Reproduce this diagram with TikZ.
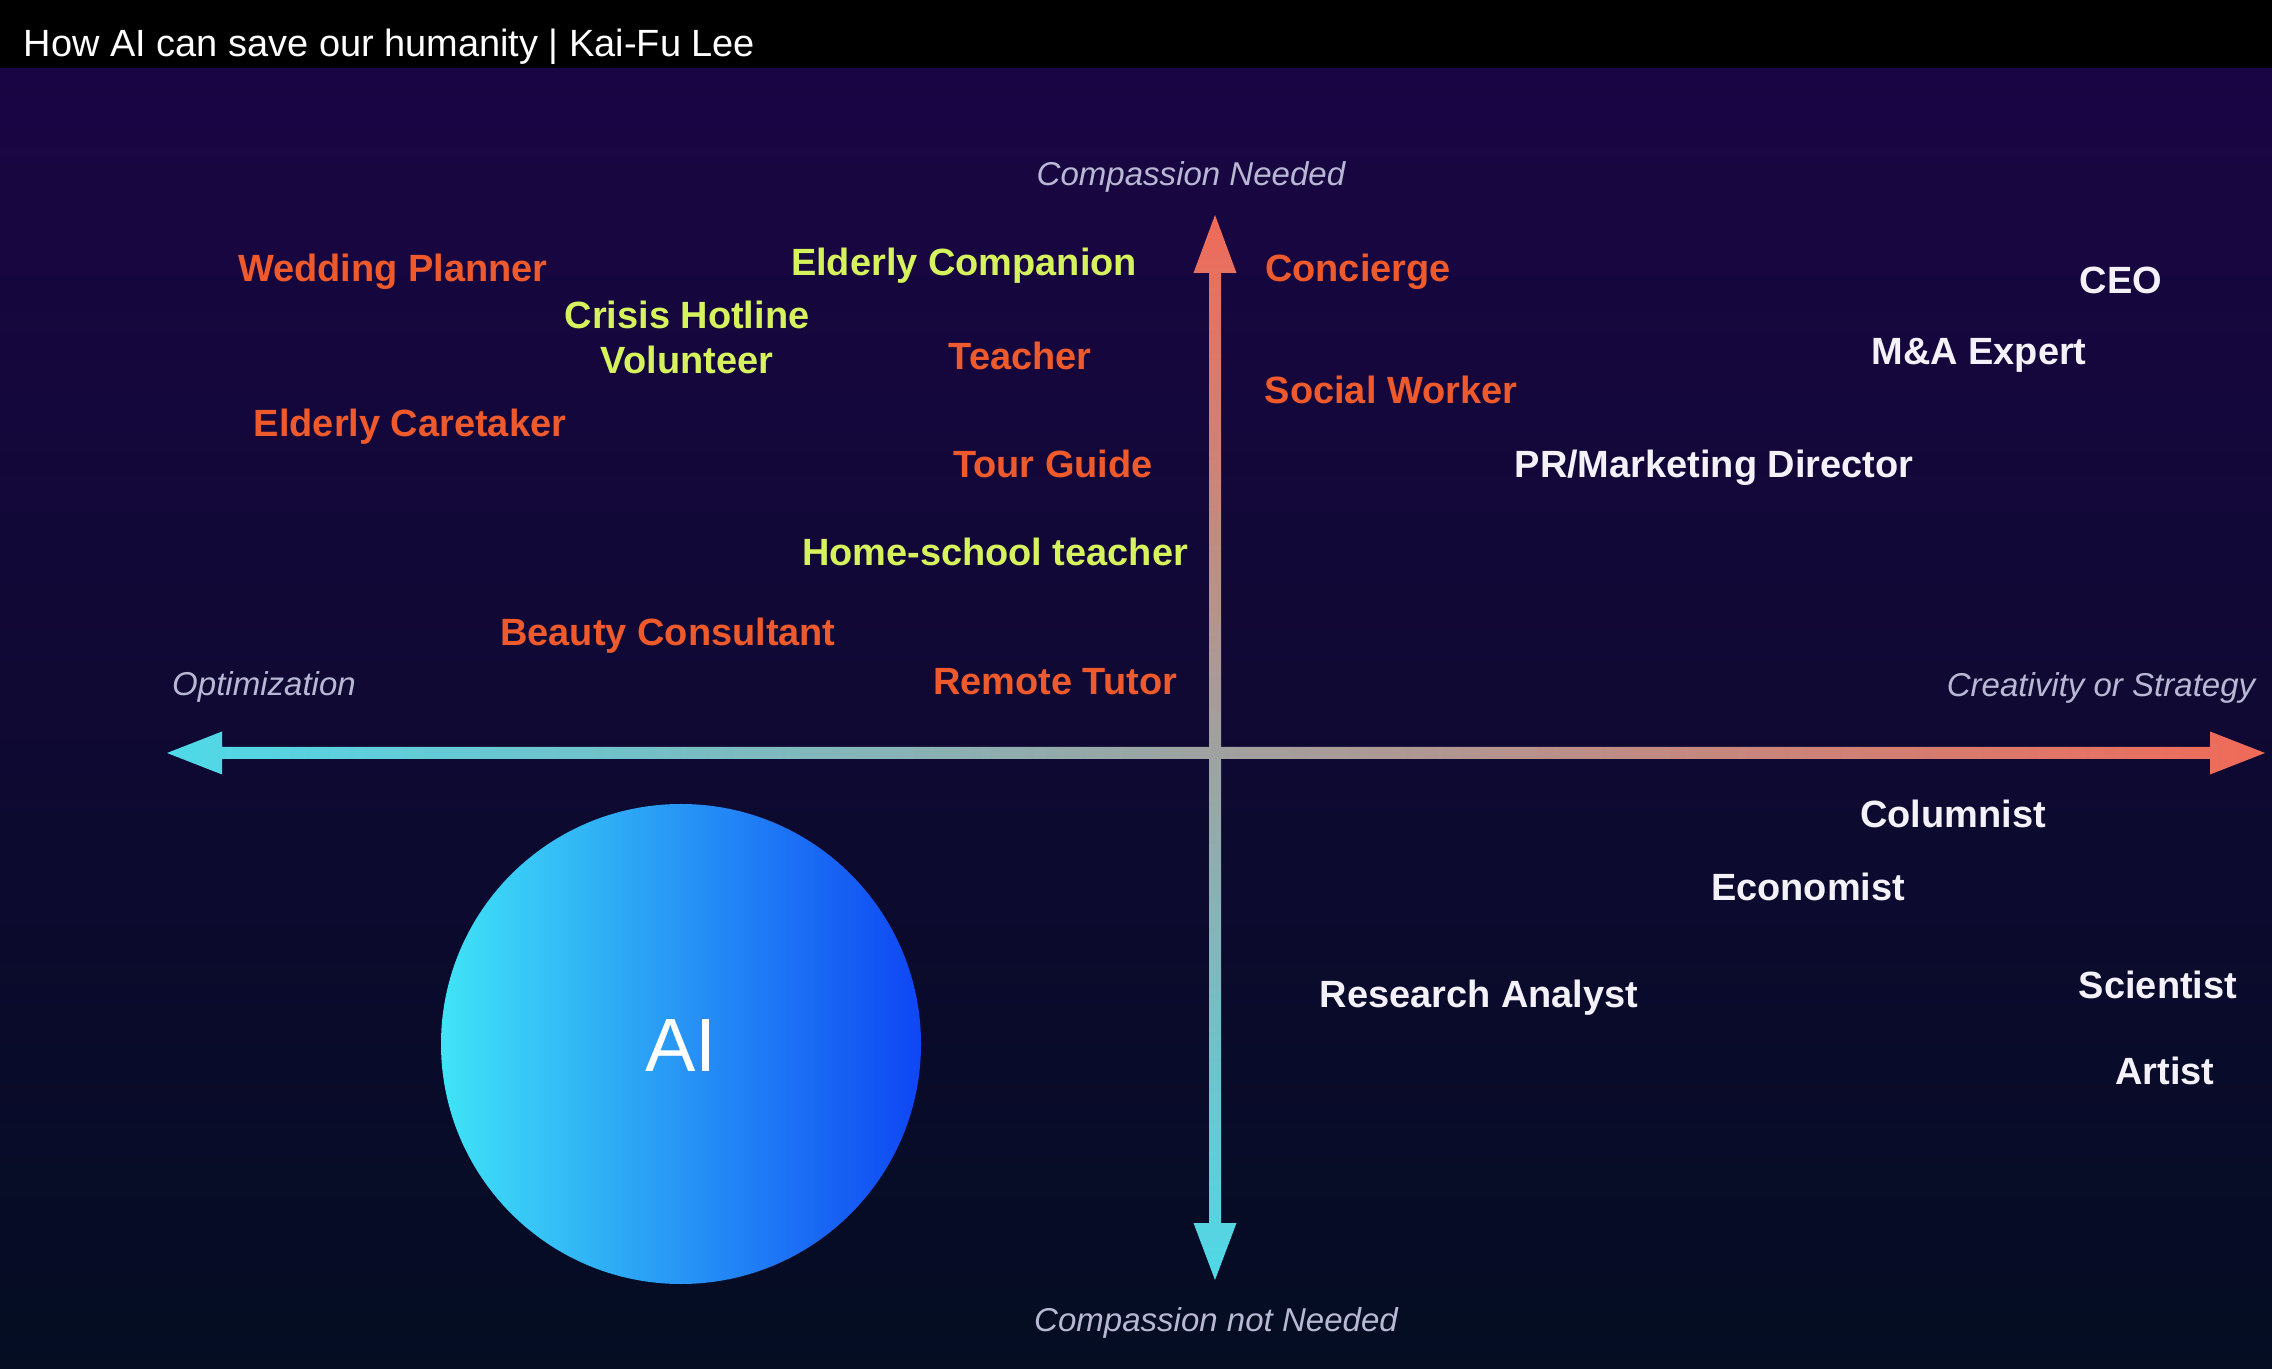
\documentclass[tikz,border=0pt]{standalone}
\usepackage{fontspec}
\setmainfont{Liberation Sans}

\definecolor{bgtop}{HTML}{1A0544}
\definecolor{bgmid}{HTML}{12063A}
\definecolor{bgbot}{HTML}{040D22}
\definecolor{axcyan}{HTML}{4FD9E8}
\definecolor{axred}{HTML}{F06A58}
\definecolor{axgray}{HTML}{BFC0C4}
\definecolor{joborange}{HTML}{EE5A2C}
\definecolor{jobgreen}{HTML}{D6F25C}
\definecolor{jobwhite}{HTML}{F4F2F8}
\definecolor{axtext}{HTML}{B8B8D4}
\definecolor{aicyan}{HTML}{40E4F6}
\definecolor{aimid}{HTML}{2895F2}
\definecolor{aiblue}{HTML}{0E46F4}

\begin{document}
\begin{tikzpicture}[
            job/.style={font=\fontsize{10.8}{13}\selectfont\bfseries, inner sep=0pt, text height=7.7pt, text depth=0pt},
            oj/.style={job, text=joborange},
            gj/.style={job, text=jobgreen},
            wj/.style={job, text=jobwhite},
            axlabel/.style={font=\fontsize{9.4}{11}\selectfont\itshape, text=axtext, inner sep=0pt, text height=6.7pt, text depth=0pt}
        ]
            \useasboundingbox ( 0, 0 ) rectangle ( 22.72, 13.68 );

% фон
            \shade [top color=bgtop, middle color=bgmid, bottom color=bgbot] ( 0, 0 ) rectangle ( 22.72, 13.0 );
            \fill [black] ( 0, 13.0 ) rectangle ( 22.72, 13.68 );
            \node [anchor=base west, inner sep=0pt, text=white, font=\fontsize{10.8}{13}\selectfont] (title) at ( 0.23, 13.11 ) {How AI can save our humanity | Kai-Fu Lee};

% оси
            \shade [left color=axcyan, middle color=axgray, right color=axred]
                ( 1.67, 6.15 ) -- ( 2.22, 6.365 ) -- ( 2.22, 6.21 ) -- ( 22.10, 6.21 ) -- ( 22.10, 6.365 )
                -- ( 22.65, 6.15 ) -- ( 22.10, 5.935 ) -- ( 22.10, 6.09 ) -- ( 2.22, 6.09 ) -- ( 2.22, 5.935 ) -- cycle;
            \shade [top color=axred, middle color=axgray, bottom color=axcyan]
                ( 12.15, 11.53 ) -- ( 12.365, 10.95 ) -- ( 12.21, 10.95 ) -- ( 12.21, 1.45 ) -- ( 12.365, 1.45 )
                -- ( 12.15, 0.88 ) -- ( 11.935, 1.45 ) -- ( 12.09, 1.45 ) -- ( 12.09, 10.95 ) -- ( 11.935, 10.95 ) -- cycle;

            \node [axlabel] (up) at ( 11.91, 11.94 ) {Compassion Needed};
            \node [axlabel] (down) at ( 12.16, 0.48 ) {Compassion not Needed};
            \node [axlabel] (left) at ( 2.64, 6.84 ) {Optimization};
            \node [axlabel] (right) at ( 21.01, 6.83 ) {Creativity or Strategy};

% круг
            \node [circle, inner sep=0pt, minimum size=4.8cm, left color=aicyan, middle color=aimid, right color=aiblue,
                text=white, font=\fontsize{21.5}{24}\selectfont, text height=15.4pt, text depth=0pt] (ai) at ( 6.81, 3.24 ) {AI};

% профессии: сострадание нужно
            \node [oj] (wedding) at ( 3.93, 11.00 ) {Wedding Planner};
            \node [gj] (companion) at ( 9.64, 11.06 ) {Elderly Companion};
            \node [gj, align=center, text height=20.7pt] (hotline) at ( 6.87, 10.305 ) {Crisis Hotline\\Volunteer};
            \node [oj] (teacher) at ( 10.20, 10.12 ) {Teacher};
            \node [oj] (caretaker) at ( 4.10, 9.45 ) {Elderly Caretaker};
            \node [oj] (guide) at ( 10.53, 9.04 ) {Tour Guide};
            \node [gj] (homeschool) at ( 9.95, 8.16 ) {Home-school teacher};
            \node [oj] (beauty) at ( 6.68, 7.36 ) {Beauty Consultant};
            \node [oj] (tutor) at ( 10.55, 6.87 ) {Remote Tutor};
            \node [oj] (concierge) at ( 13.58, 11.00 ) {Concierge};
            \node [oj] (social) at ( 13.91, 9.78 ) {Social Worker};

% профессии: творчество
            \node [wj] (ceo) at ( 21.21, 10.88 ) {CEO};
            \node [wj] (merger) at ( 19.79, 10.17 ) {M\&A Expert};
            \node [wj] (marketing) at ( 17.14, 9.04 ) {PR/Marketing Director};
            \node [wj] (columnist) at ( 19.53, 5.54 ) {Columnist};
            \node [wj] (economist) at ( 18.08, 4.81 ) {Economist};
            \node [wj] (analyst) at ( 14.79, 3.74 ) {Research Analyst};
            \node [wj] (scientist) at ( 21.58, 3.83 ) {Scientist};
            \node [wj] (artist) at ( 21.65, 2.97 ) {Artist};
        \end{tikzpicture}
\end{document}
